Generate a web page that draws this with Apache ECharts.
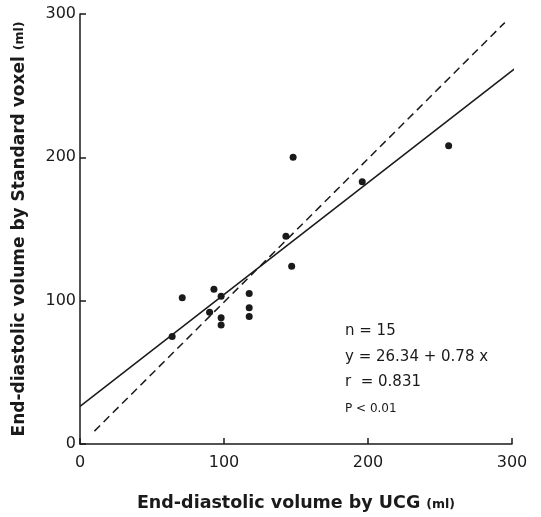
<!DOCTYPE html>
<html>
<head>
<meta charset="utf-8">
<script src="https://cdn.jsdelivr.net/npm/echarts@6/dist/echarts.min.js"></script>
<style>
  html, body { margin: 0; padding: 0; background: #fff; }
  #chart { width: 541px; height: 517px; }
</style>
</head>
<body>
<div id="chart"></div>
<script>
// UCG volume (x) vs standard voxel volume (y), ml
const ucgVolume = [64, 71, 90, 93, 98, 98, 98, 117.5, 117.5, 117.5, 143, 147, 148, 196, 256];
const voxelVolume = [75, 102, 92, 108, 103, 88, 83, 105, 95, 89, 145, 124, 200, 183, 208];

// regression line y = 26.34 + 0.78x, end points
const fitX = [0, 304];
const fitY = [26.3, 263.5];

// identity line (dashed)
const idX = [10, 295];
const idY = [9, 294];

const axisTicks = [0, 100, 200, 300];
const statLines = ['n = 15', 'y = 26.34 + 0.78 x', 'r  = 0.831', 'P < 0.01'];

const ink = '#1a1a1a';
const font = '"DejaVu Sans", sans-serif';

const chart = echarts.init(document.getElementById('chart'));

const option = {
  animation: false,
  backgroundColor: '#fff',
  grid: { left: 80, right: 29, top: 14, bottom: 72 },
  xAxis: {
    type: 'value',
    min: axisTicks[0],
    max: axisTicks[axisTicks.length - 1],
    interval: 100,
    name: '{a|End-diastolic volume by UCG }{b|(ml)}',
    nameLocation: 'middle',
    nameGap: 50,
    nameTextStyle: {
      rich: {
        a: { fontFamily: font, fontSize: 17.5, fontWeight: 'bold', color: ink },
        b: { fontFamily: font, fontSize: 12.5, fontWeight: 'bold', color: ink, padding: [3, 0, 0, 0] }
      }
    },
    axisLine: { lineStyle: { color: ink, width: 1.5 } },
    axisTick: { inside: true, length: 6, lineStyle: { color: ink, width: 1.5 } },
    axisLabel: { fontFamily: font, fontSize: 16, color: ink, margin: 11 },
    splitLine: { show: false }
  },
  yAxis: {
    type: 'value',
    min: axisTicks[0],
    max: axisTicks[axisTicks.length - 1],
    interval: 100,
    name: '{a|End-diastolic volume by Standard voxel }{b|(ml)}',
    nameLocation: 'middle',
    nameGap: 52,
    nameTextStyle: {
      rich: {
        a: { fontFamily: font, fontSize: 17, fontWeight: 'bold', color: ink },
        b: { fontFamily: font, fontSize: 12.5, fontWeight: 'bold', color: ink }
      }
    },
    axisLine: { lineStyle: { color: ink, width: 1.5 } },
    axisTick: { inside: true, length: 6, lineStyle: { color: ink, width: 1.5 } },
    axisLabel: { fontFamily: font, fontSize: 16, color: ink, margin: 4 },
    splitLine: { show: false }
  },
  series: [
    {
      type: 'line',
      data: fitX.map((x, i) => [x, fitY[i]]),
      showSymbol: false,
      clip: false,
      lineStyle: { color: ink, width: 1.5 },
      z: 2
    },
    {
      type: 'line',
      data: idX.map((x, i) => [x, idY[i]]),
      showSymbol: false,
      lineStyle: { color: ink, width: 1.5, type: [8, 5] },
      z: 2
    },
    {
      type: 'scatter',
      data: ucgVolume.map((x, i) => [x, voxelVolume[i]]),
      symbol: 'circle',
      symbolSize: 7,
      itemStyle: { color: ink, opacity: 1 },
      z: 3
    }
  ],
  graphic: statLines.map((t, i) => ({
    type: 'text',
    left: 345,
    top: 324 + i * 25.5 + (i === 3 ? 2 : 0),
    style: {
      text: t,
      fontFamily: font,
      fontSize: i === 3 ? 12 : 15,
      fill: ink
    }
  }))
};

chart.setOption(option);
</script>
</body>
</html>
